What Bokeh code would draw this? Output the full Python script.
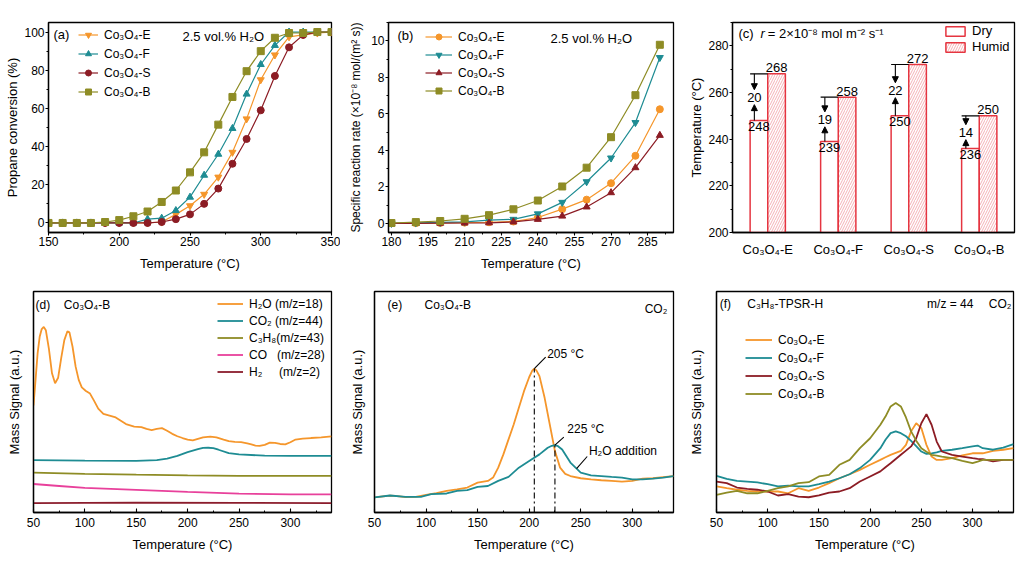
import numpy as np
from bokeh.plotting import figure
from bokeh.layouts import column, row
from bokeh.models import (Range1d, Legend, LegendItem, Label, SingleIntervalTicker,
                          FixedTicker, Arrow, NormalHead, ColumnDataSource)
from bokeh.core.properties import value
from bokeh.embed import file_html
from bokeh.resources import INLINE

FONT = "Liberation Sans"
ORANGE = "#F5962B"
TEAL = "#1E8C93"
DRED = "#8C1C24"
OLIVE = "#8E8C25"
PINK = "#E8409B"
H2COL = "#8B1C2C"
RED = "#E53540"

# ---------------- (a) propane conversion ----------------
temp_a = list(range(150, 351, 10))
conv_E = [0, 0, 0, 0, 0, 0, 0, 0, 0.5, 4.5, 9, 15, 24, 37, 54.5, 75, 88, 97.5, 98.5, 99.5, 100]
conv_F = [0, 0, 0, 0, 0, 0, 0, 2, 2.5, 6.5, 13.5, 25, 36, 49.5, 67.5, 83, 93, 100, 100, 100, 100]
conv_S = [0, 0, 0, 0, 0, 0, 0, 0, 0.5, 2, 4.5, 10, 18, 31, 44, 59, 77, 92, 98.5, 100, 100]
conv_B = [0, 0, 0, 0, 0.5, 1.5, 3.5, 6, 11, 17, 26.5, 37, 51.5, 66, 79.5, 90, 97, 99.5, 99.5, 100, 100]

# ---------------- (b) specific rate ----------------
temp_b = list(range(180, 291, 10))
rate_E = [0, 0.01, 0.02, 0.04, 0.06, 0.1, 0.32, 0.78, 1.3, 2.2, 3.7, 6.25]
rate_F = [0, 0.03, 0.05, 0.08, 0.18, 0.22, 0.52, 1.15, 2.28, 3.58, 5.52, 9.08]
rate_S = [0, 0, 0.01, 0.02, 0.03, 0.08, 0.22, 0.4, 0.9, 1.68, 3.05, 4.82]
rate_B = [0.02, 0.07, 0.13, 0.25, 0.45, 0.77, 1.25, 2.02, 3.05, 4.72, 7.02, 9.78]

# ---------------- (c) T at r = 2e-8 ----------------
samples = ["Co₃O₄-E", "Co₃O₄-F", "Co₃O₄-S", "Co₃O₄-B"]
t_dry = [248, 239, 250, 236]
t_humid = [268, 258, 272, 250]

# ---------------- (d) MS signals Co3O4-B ----------------
d_t_h2o = [50, 52, 54, 56, 58, 60, 62, 65, 68, 71, 74, 77, 80, 83, 85, 88, 91, 94, 97, 101,
           105, 109, 113, 118, 124, 130, 135, 140, 148, 155, 160, 165, 170, 175, 180, 185,
           190, 195, 200, 205, 210, 215, 222, 228, 235, 240, 246, 252, 258, 262, 266, 270,
           275, 280, 285, 290, 295, 300, 305, 312, 320, 330, 340]
d_h2o = [48.4, 60, 72, 79.5, 83, 84, 82.5, 74, 63, 58.5, 61, 70, 78, 82, 81.5, 75, 66, 60, 56.6, 55,
         53.8, 50.5, 47, 44.6, 43.8, 43, 41.5, 40, 38.9, 38.6, 37.8, 37.3, 37.8, 38.2, 37, 35.6,
         34.5, 33.7, 33, 32.6, 33.3, 34, 34.3, 34, 33, 32.3, 32, 31.8, 31.3, 30.8, 30.3, 30.1,
         30.6, 31.6, 31.5, 31, 30.8, 31.8, 33, 33.4, 33.7, 34, 34.4]
d_t_co2 = [50, 100, 150, 170, 180, 190, 200, 210, 215, 220, 225, 230, 240, 250, 275, 300, 340]
d_co2 = [23.7, 23.5, 23.4, 23.7, 24.4, 25.6, 27.3, 28.7, 29.2, 29.3, 29.1, 28.4, 26.9, 26.3, 25.7, 25.6, 25.6]
d_t_c3h8 = [50, 100, 150, 200, 250, 340]
d_c3h8 = [18.0, 17.5, 17.1, 16.8, 16.6, 16.6]
d_t_co = [50, 75, 100, 150, 200, 250, 300, 340]
d_co = [12.9, 12.0, 11.1, 10.2, 9.3, 8.5, 8.2, 8.2]
d_t_h2 = [50, 150, 250, 340]
d_h2 = [4.2, 4.5, 4.4, 4.2]

# ---------------- (e) CO2 signal, dry vs H2O addition ----------------
e_t_dry = [50, 65, 70, 80, 90, 100, 110, 120, 130, 140, 150, 160, 165, 170, 175, 180, 185, 190, 195, 200,
           203, 205, 207, 210, 215, 220, 225, 230, 235, 240, 250, 260, 270, 280, 290, 300, 310, 320, 330, 340]
e_dry = [6.8, 7.6, 7.5, 7.0, 7.1, 8.0, 8.8, 9.8, 10.5, 11.3, 13.5, 14.3, 15.8, 20.3, 26.3, 33.1, 39.8, 47.4, 54.9, 61.2,
         64.2, 65.1, 64.3, 61.7, 51.9, 39.8, 27.8, 20.3, 17.5, 16.5, 15.5, 15.0, 14.6, 14.3, 14.0, 14.3, 15.3, 15.5, 16.0, 16.5]
e_t_wet = [50, 65, 80, 95, 105, 120, 130, 140, 150, 160, 170, 180, 190, 200, 210, 218, 222, 225, 228, 232,
           240, 250, 260, 270, 280, 290, 300, 310, 320, 330, 340]
e_wet = [6.8, 7.7, 7.1, 7.1, 8.3, 8.6, 9.8, 10.1, 11.6, 12.0, 14.3, 16.1, 20.3, 23.3, 26.3, 29.3, 30.2, 30.5, 30.0, 28.5,
         22.6, 18.0, 16.8, 16.5, 16.1, 15.8, 15.0, 15.0, 15.3, 15.8, 16.5]

# ---------------- (f) C3H8-TPSR-H ----------------
f_t = [50, 60, 70, 80, 90, 100, 110, 120, 130, 140, 150, 160, 170, 180, 190, 200,
       210, 215, 220, 225, 230, 235, 240, 245, 250, 255, 260, 265, 270,
       280, 290, 300, 305, 310, 320, 330, 340]
f_E = [11.8, 11.0, 10.3, 9.8, 9.5, 9.5, 9.5, 8.7, 11.0, 9.8, 11.3, 13.3, 15.5, 17.3, 19.3, 21.6,
       23.8, 25.0, 26.1, 27.0, 27.9, 30.6, 36.7, 40.4, 38.2, 30.6, 25.3, 23.8, 23.8,
       24.6, 25.8, 26.8, 26.8, 26.8, 27.9, 28.4, 29.1]
f_F = [16.6, 15.2, 14.3, 14.0, 13.6, 12.8, 11.8, 12.2, 11.8, 11.8, 12.8, 14.0, 15.5, 17.3, 20.1, 23.8,
       29.1, 32.9, 35.9, 36.7, 35.9, 34.5, 32.4, 30.0, 27.6, 26.5, 26.8, 27.2, 27.9,
       28.4, 29.1, 29.9, 30.3, 29.1, 28.4, 29.4, 30.9]
f_S = [14.0, 13.3, 11.3, 10.7, 10.3, 9.5, 7.7, 8.3, 7.2, 6.9, 7.7, 9.0, 9.5, 11.0, 14.0, 16.3,
       18.6, 20.5, 22.3, 24.2, 26.1, 28.0, 29.9, 33.6, 40.4, 44.5, 39.7, 32.1, 27.6,
       26.1, 25.3, 24.6, 24.3, 24.1, 23.1, 23.8, 23.8]
f_B = [8.0, 9.0, 9.8, 8.7, 8.7, 9.8, 11.0, 11.8, 13.3, 13.7, 16.3, 17.0, 21.6, 23.8, 29.1, 33.6,
       39.7, 43.4, 48.0, 49.5, 48.0, 43.0, 36.7, 32.5, 29.1, 27.5, 26.1, 25.7, 25.3,
       24.6, 23.4, 22.3, 23.0, 23.8, 23.8, 23.8, 23.8]


def base(width, height, xr, yr, bl, br, bt, bb, ticks_in=False):
    p = figure(width=width, height=height, x_range=Range1d(*xr), y_range=Range1d(*yr),
               output_backend="svg", toolbar_location=None,
               min_border_left=bl, min_border_right=br, min_border_top=bt, min_border_bottom=bb)
    p.outline_line_color = "black"
    p.outline_line_width = 1.3
    p.outline_line_alpha = 1
    p.xgrid.visible = False
    p.ygrid.visible = False
    p.background_fill_color = "white"
    p.border_fill_color = "white"
    for ax in p.axis:
        ax.axis_line_color = "black"
        ax.axis_line_width = 1.3
        ax.major_tick_line_color = "black"
        ax.minor_tick_line_color = "black"
        ax.major_tick_line_width = 1.1
        ax.minor_tick_line_width = 1.0
        if ticks_in:
            ax.major_tick_in, ax.major_tick_out = 4, 0
            ax.minor_tick_in, ax.minor_tick_out = 2, 0
            ax.major_label_standoff = 5
        else:
            ax.major_tick_in, ax.major_tick_out = 0, 3
            ax.minor_tick_in, ax.minor_tick_out = 0, 2
            ax.major_label_standoff = 1
        ax.major_label_text_font = FONT
        ax.major_label_text_font_size = "12px"
        ax.major_label_text_color = "black"
        ax.axis_label_text_font = FONT
        ax.axis_label_text_font_size = "13px"
        ax.axis_label_text_font_style = "normal"
        ax.axis_label_text_color = "black"
    p.xaxis.axis_label_standoff = 7
    p.yaxis.axis_label_standoff = 1
    p.xaxis.axis_label = "Temperature (°C)"
    return p


def add_legend(p, items, loc, gw, font="12px", spacing=3, lh=15, gh=None, standoff=6):
    leg = Legend(items=items, location=loc, border_line_color=None, background_fill_alpha=0,
                 padding=0, margin=0, spacing=spacing, glyph_width=gw,
                 glyph_height=gh if gh else lh, label_height=lh,
                 label_standoff=standoff, label_text_font=FONT, label_text_font_size=font,
                 label_text_color="black")
    p.add_layout(leg)


def label(p, x, y, text, size="12px", align="left", style="normal"):
    p.add_layout(Label(x=x, y=y, text=text, text_font=FONT, text_font_size=size,
                       text_align=align, text_baseline="middle", text_font_style=style,
                       text_color="black"))


W = 340
H1 = 288
H2 = 284

# ================= (a) =================
pa = base(W, H1, (150, 350), (-5, 105), 48, 9, 22, 56)
pa.xaxis.ticker = SingleIntervalTicker(interval=50, num_minor_ticks=2)
pa.yaxis.ticker = SingleIntervalTicker(interval=20, num_minor_ticks=2)
pa.yaxis.axis_label = "Propane conversion (%)"
items = []
for name, ys, col, mk in [("Co₃O₄-E", conv_E, ORANGE, "inverted_triangle"),
                          ("Co₃O₄-F", conv_F, TEAL, "triangle"),
                          ("Co₃O₄-S", conv_S, DRED, "circle"),
                          ("Co₃O₄-B", conv_B, OLIVE, "square")]:
    l = pa.line(temp_a, ys, line_color=col, line_width=1.2)
    s = pa.scatter(temp_a, ys, marker=mk, size=7, fill_color=col, line_color=col)
    items.append(LegendItem(label=name, renderers=[l, s]))
add_legend(pa, items, (30, 133), 20, spacing=4)
label(pa, 153.5, 98.7, "(a)", "13px")
label(pa, 244.7, 97.7, "2.5 vol.% H₂O", "13px")

# ================= (b) =================
pb = base(W, H1, (178.8, 295.6), (-0.5, 11), 48, 7, 22, 56)
pb.xaxis.ticker = SingleIntervalTicker(interval=15, num_minor_ticks=2)
pb.yaxis.ticker = SingleIntervalTicker(interval=2, num_minor_ticks=2)
pb.yaxis.axis_label = "Specific reaction rate (×10⁻⁸ mol/(m² s))"
pb.yaxis.axis_label_text_font_size = "12px"
pb.yaxis.axis_label_standoff = 5
items = []
for name, ys, col, mk in [("Co₃O₄-E", rate_E, ORANGE, "circle"),
                          ("Co₃O₄-F", rate_F, TEAL, "inverted_triangle"),
                          ("Co₃O₄-S", rate_S, DRED, "triangle"),
                          ("Co₃O₄-B", rate_B, OLIVE, "square")]:
    l = pb.line(temp_b, ys, line_color=col, line_width=1.2)
    s = pb.scatter(temp_b, ys, marker=mk, size=7, fill_color=col, line_color=col)
    items.append(LegendItem(label=name, renderers=[l, s]))
add_legend(pb, items, (37, 134), 27, spacing=3)
label(pb, 182.5, 10.29, "(b)", "13px")
label(pb, 245.2, 10.12, "2.5 vol.% H₂O", "13px")

# ================= (c) =================
pc = base(W, H1, (0, 4), (200, 290), 52, 6, 22, 56)
cx = np.arange(len(samples)) + 0.5
pc.xaxis.ticker = FixedTicker(ticks=list(cx), minor_ticks=[])
pc.xaxis.major_label_overrides = {float(c): s for c, s in zip(cx, samples)}
pc.xaxis.major_tick_line_color = None
pc.xaxis.minor_tick_line_color = None
pc.xaxis.major_label_standoff = 6
pc.xaxis.major_label_text_font_size = "13px"
pc.xaxis.axis_label = None
pc.yaxis.ticker = SingleIntervalTicker(interval=20, num_minor_ticks=2)
pc.yaxis.axis_label = "Temperature (°C)"

dry = np.array(t_dry, dtype=float)
hum = np.array(t_humid, dtype=float)
diff = hum - dry
mid = (dry + hum) / 2
src_c = ColumnDataSource(dict(
    xd=cx - 0.125, xh=cx + 0.125, dry=dry, hum=hum,
    dry_y=dry - 0.5, hum_y=hum + 0.6,
    dry_s=[str(int(v)) for v in dry], hum_s=[str(int(v)) for v in hum],
    lx0=cx - 0.25, lx1=cx, ax=cx - 0.19, mid=mid, dif_s=[str(int(v)) for v in diff],
    dn0=hum, dn1=hum - (diff / 2 - 3.2), up0=dry, up1=dry + (diff / 2 - 3.2),
))
rd = pc.vbar(x="xd", top="dry", bottom=200, width=0.25, source=src_c,
             fill_color="white", line_color=RED, line_width=1.5)
rh = pc.vbar(x="xh", top="hum", bottom=200, width=0.25, source=src_c,
             fill_color="white", line_color=RED, line_width=1.5,
             hatch_pattern="right_diagonal_line", hatch_color=RED, hatch_alpha=0.55,
             hatch_scale=5, hatch_weight=0.7)
pc.segment(x0="lx0", y0="hum", x1="lx1", y1="hum", source=src_c, line_color="black", line_width=1.2)
for y0, y1 in [("dn0", "dn1"), ("up0", "up1")]:
    pc.add_layout(Arrow(end=NormalHead(size=6, fill_color="black", line_color="black", line_width=1),
                        x_start="ax", y_start=y0, x_end="ax", y_end=y1, source=src_c,
                        line_color="black", line_width=1.1))
pc.text(x="ax", y="mid", text="dif_s", source=src_c, text_font=value(FONT),
        text_font_size=value("13px"), text_align="center", text_baseline="middle", text_color="black")
pc.text(x="xd", y="dry_y", text="dry_s", source=src_c, text_font=value(FONT),
        text_font_size=value("13px"), text_align="center", text_baseline="top", text_color="black")
pc.text(x="xh", y="hum_y", text="hum_s", source=src_c, text_font=value(FONT),
        text_font_size=value("13px"), text_align="center", text_baseline="bottom", text_color="black")
add_legend(pc, [LegendItem(label="Dry", renderers=[rd]), LegendItem(label="Humid", renderers=[rh])],
           (211, 178), 24, font="13px", spacing=1, lh=14, gh=12, standoff=5)
label(pc, 0.085, 285.3, "(c)", "13px")
label(pc, 0.397, 285.3, "r", "13px", style="italic")
label(pc, 0.50, 285.3, "= 2×10⁻⁸ mol m⁻² s⁻¹", "13px")

# ================= (d) =================
pd_ = base(W, H2, (50, 340), (0, 100), 33, 9, 3, 60, ticks_in=True)
pd_.xaxis.ticker = SingleIntervalTicker(interval=50, num_minor_ticks=2)
pd_.yaxis.ticker = FixedTicker(ticks=[])
pd_.yaxis.axis_label = "Mass Signal (a.u.)"
pd_.yaxis.axis_label_standoff = 12
items = []
for name, xs, ys, col in [("H₂O (m/z=18)", d_t_h2o, d_h2o, ORANGE),
                          ("CO₂ (m/z=44)", d_t_co2, d_co2, TEAL),
                          ("C₃H₈(m/z=43)", d_t_c3h8, d_c3h8, OLIVE),
                          ("CO\u00a0\u00a0\u00a0(m/z=28)", d_t_co, d_co, PINK),
                          ("H₂\u00a0\u00a0\u00a0\u00a0\u00a0(m/z=2)", d_t_h2, d_h2, H2COL)]:
    l = pd_.line(xs, ys, line_color=col, line_width=1.8)
    items.append(LegendItem(label=name, renderers=[l]))
add_legend(pd_, items, (184, 133), 26, spacing=2)
label(pd_, 52, 94.1, "(d)")
label(pd_, 79.5, 94.1, "Co₃O₄-B")

# ================= (e) =================
pe = base(W, H2, (50, 340), (0, 100), 34, 7, 3, 60, ticks_in=True)
pe.xaxis.ticker = SingleIntervalTicker(interval=50, num_minor_ticks=2)
pe.yaxis.ticker = FixedTicker(ticks=[])
pe.yaxis.axis_label = "Mass Signal (a.u.)"
pe.yaxis.axis_label_standoff = 10
pe.line(e_t_dry, e_dry, line_color=ORANGE, line_width=1.8)
pe.line(e_t_wet, e_wet, line_color=TEAL, line_width=1.8)
i1 = int(np.argmax(e_dry))
i2 = int(np.argmax(e_wet))
px1, py1 = e_t_dry[i1], e_dry[i1]
px2, py2 = e_t_wet[i2], e_wet[i2]
pe.segment(x0=[px1, px2], y0=[0, 0], x1=[px1, px2], y1=[py1, py2],
           line_color="black", line_width=1.1, line_dash="6 3 2 3")
hx = 246
hy = float(np.interp(hx, e_t_wet, e_wet))
pe.segment(x0=[px1, px2, hx], y0=[py1, py2, hy],
           x1=[px1 + 11, px2 + 8.6, hx + 10.3], y1=[py1 + 5.2, py2 + 3.6, hy + 5.5],
           line_color="black", line_width=1.1)
label(pe, px1 + 12.5, py1 + 6.7, f"{px1} °C")
label(pe, px2 + 12, py2 + 7.4, f"{px2} °C")
label(pe, hx + 12, hy + 7.9, "H₂O addition")
label(pe, 62.6, 93.7, "(e)")
label(pe, 98.5, 93.7, "Co₃O₄-B")
label(pe, 312, 92.3, "CO₂")

# ================= (f) =================
pf = base(W, H2, (50, 340), (0, 100), 36, 7, 3, 60, ticks_in=True)
pf.xaxis.ticker = SingleIntervalTicker(interval=50, num_minor_ticks=2)
pf.yaxis.ticker = FixedTicker(ticks=[])
pf.yaxis.axis_label = "Mass Signal (a.u.)"
pf.yaxis.axis_label_standoff = 13
items = []
for name, ys, col in [("Co₃O₄-E", f_E, ORANGE), ("Co₃O₄-F", f_F, TEAL),
                      ("Co₃O₄-S", f_S, DRED), ("Co₃O₄-B", f_B, OLIVE)]:
    l = pf.line(f_t, ys, line_color=col, line_width=1.8)
    items.append(LegendItem(label=name, renderers=[l]))
add_legend(pf, items, (29, 111), 27, spacing=3)
label(pf, 53.2, 94.4, "(f)")
label(pf, 80, 94.4, "C₃H₈-TPSR-H")
label(pf, 255.6, 94.4, "m/z = 44")
label(pf, 315.8, 94.4, "CO₂")

layout = column(row(pa, pb, pc), row(pd_, pe, pf))
open("out.html", "w").write(file_html(layout, INLINE))
